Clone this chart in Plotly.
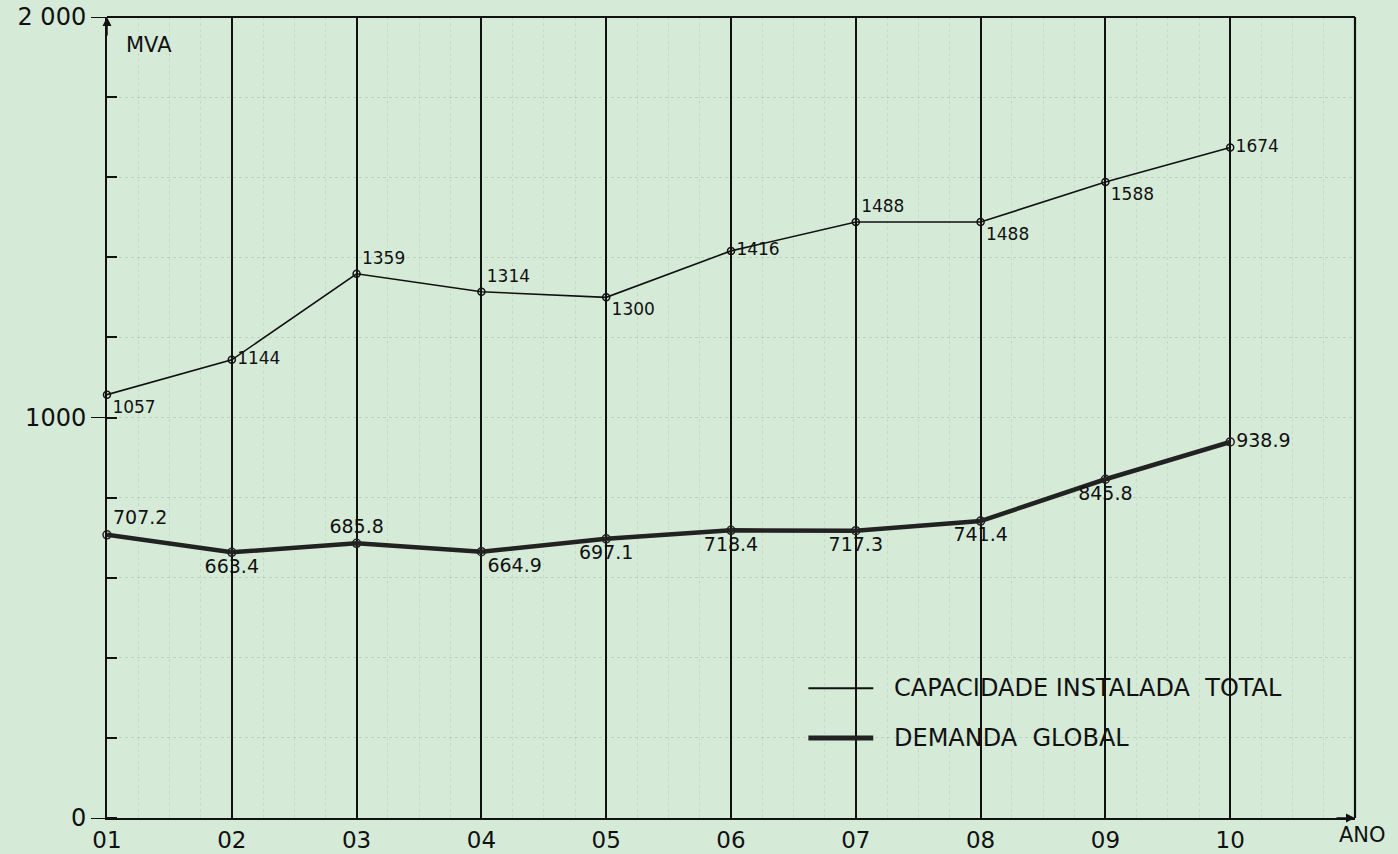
import plotly.graph_objects as go

anos = ["01", "02", "03", "04", "05", "06", "07", "08", "09", "10"]
capacidade = [1057, 1144, 1359, 1314, 1300, 1416, 1488, 1488, 1588, 1674]
demanda = [707.2, 663.4, 685.8, 664.9, 697.1, 718.4, 717.3, 741.4, 845.8, 938.9]
y_ticks = [0, 1000, 2000]
y_tick_labels = ["0", "1000", "2 000"]

cap_pos = ["bottom right", "middle right", "top right", "top right", "bottom right",
           "middle right", "top right", "bottom right", "bottom right", "middle right"]
dem_pos = ["top right", "bottom center", "top center", "bottom right", "bottom center",
           "bottom center", "bottom center", "bottom center", "bottom center", "middle right"]

BG = "#d5ebd8"
FONT = "DejaVu Sans"
xs = list(range(1, len(anos) + 1))

fig = go.Figure()
fig.add_trace(go.Scatter(
    x=xs, y=capacidade, mode="lines+markers+text",
    text=[f"{v:g}" for v in capacidade], textposition=cap_pos,
    textfont=dict(family=FONT, size=17, color="#111"),
    line=dict(color="#111", width=1.6),
    marker=dict(symbol="circle-open", size=7, color="#111", line=dict(width=1.5)),
    name="CAPACIDADE INSTALADA TOTAL", cliponaxis=False,
))
fig.add_trace(go.Scatter(
    x=xs, y=demanda, mode="lines+markers+text",
    text=[f"{v:g}" for v in demanda], textposition=dem_pos,
    textfont=dict(family=FONT, size=19, color="#111"),
    line=dict(color="#222", width=4.5),
    marker=dict(symbol="circle-open", size=8, color="#222", line=dict(width=1.5)),
    name="DEMANDA GLOBAL", cliponaxis=False,
))

shapes = [
    dict(type="line", xref="paper", yref="paper", x0=0, x1=1, y0=1, y1=1,
         line=dict(color="#111", width=2)),
    dict(type="line", xref="paper", yref="paper", x0=1, x1=1, y0=0, y1=1,
         line=dict(color="#111", width=2.2)),
    dict(type="line", xref="paper", yref="paper", x0=0.562, x1=0.614, y0=0.162, y1=0.162,
         line=dict(color="#111", width=1.8)),
    dict(type="line", xref="paper", yref="paper", x0=0.562, x1=0.614, y0=0.100, y1=0.100,
         line=dict(color="#222", width=5)),
]

annotations = [
    dict(text="MVA", xref="paper", yref="paper", x=0.014, y=0.965, xanchor="left",
         yanchor="middle", showarrow=False, font=dict(family=FONT, size=21, color="#111")),
    dict(text="ANO", xref="paper", yref="paper", x=1.006, y=-0.004, xanchor="center",
         yanchor="top", showarrow=False, font=dict(family=FONT, size=21, color="#111")),
    dict(text="CAPACIDADE INSTALADA  TOTAL", xref="paper", yref="paper", x=0.629, y=0.162,
         xanchor="left", yanchor="middle", showarrow=False,
         font=dict(family=FONT, size=24, color="#111")),
    dict(text="DEMANDA  GLOBAL", xref="paper", yref="paper", x=0.629, y=0.100,
         xanchor="left", yanchor="middle", showarrow=False,
         font=dict(family=FONT, size=24, color="#111")),
    dict(x=0, y=1.0, xref="paper", yref="paper", ax=0, ay=20,
         showarrow=True, arrowhead=2, arrowsize=1.2, arrowwidth=1.5, arrowcolor="#111", text=""),
    dict(x=1.0, y=0, xref="paper", yref="paper", ax=-20, ay=0,
         showarrow=True, arrowhead=2, arrowsize=1.2, arrowwidth=1.5, arrowcolor="#111", text=""),
]

fig.update_layout(
    width=1398, height=854,
    margin=dict(l=107, r=43, t=17, b=36),
    paper_bgcolor=BG, plot_bgcolor=BG,
    showlegend=False,
    shapes=shapes, annotations=annotations,
    font=dict(family=FONT, color="#111"),
)
fig.update_xaxes(
    range=[1, 11], tickvals=xs, ticktext=anos, automargin=False,
    showgrid=True, gridcolor="#111", gridwidth=1.8,
    showline=True, linecolor="#111", linewidth=2,
    ticks="inside", ticklen=6, tickcolor="#111",
    tickfont=dict(family=FONT, size=23, color="#111"),
    zeroline=False,
    minor=dict(dtick=0.25, showgrid=True, gridcolor="rgba(60,80,60,0.10)", gridwidth=1, griddash="dot"),
)
fig.update_yaxes(
    range=[0, 2000], tickvals=y_ticks, ticktext=y_tick_labels, automargin=False,
    showgrid=False,
    showline=True, linecolor="#111", linewidth=2,
    ticks="outside", ticklen=14, tickcolor="#111",
    tickfont=dict(family=FONT, size=24, color="#111"),
    zeroline=False,
    minor=dict(dtick=200, ticks="inside", ticklen=10, tickcolor="#111", tickwidth=1.5,
               showgrid=True, gridcolor="rgba(60,80,60,0.16)", gridwidth=1, griddash="dot"),
)

fig.write_html(
    "out.html",
    config={"displayModeBar": False},
    post_script="document.body.style.margin='0';document.body.style.background='" + BG + "';",
)
